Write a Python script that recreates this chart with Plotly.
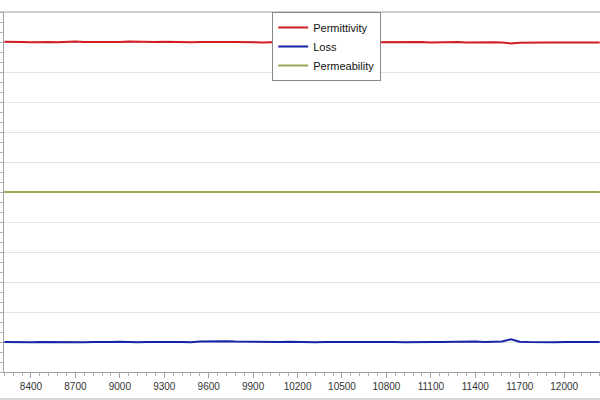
import plotly.graph_objects as go

# frequency samples (every 60 units, same spacing as the minor ticks)
freq = list(range(8220, 12241, 60))

permittivity = [
    33.02, 33.04, 33.00, 32.98, 33.03, 33.01, 32.97, 33.02, 33.05, 33.00,
    32.98, 33.03, 33.01, 32.99, 33.04, 33.02, 32.98, 33.00, 33.03, 32.99,
    33.01, 32.97, 33.00, 33.02, 32.98, 33.01, 33.00, 32.97, 32.99, 32.96,
    32.98, 33.00, 32.97, 32.99, 33.01, 32.98, 33.00, 32.97, 32.99, 33.00,
    32.98, 32.99, 32.97, 33.00, 32.98, 33.02, 32.97, 32.99, 32.96, 32.98,
    32.97, 32.99, 32.96, 32.98, 32.95, 32.97, 32.94, 32.86, 32.93, 32.96,
    32.94, 32.96, 32.95, 32.97, 32.94, 32.95, 32.94, 32.95,
]

loss = [
    3.00, 2.98, 3.02, 2.97, 3.01, 2.99, 3.03, 2.98, 3.00, 2.97,
    3.01, 2.98, 3.00, 3.02, 2.99, 2.97, 3.01, 2.98, 3.00, 2.99,
    3.01, 2.98, 3.05, 3.07, 3.06, 3.08, 3.05, 3.03, 3.06, 3.02,
    3.04, 3.01, 3.03, 2.99, 3.02, 2.98, 3.00, 2.97, 3.01, 2.99,
    3.00, 2.98, 3.02, 2.99, 3.01, 2.97, 3.00, 3.02, 2.99, 3.01,
    3.03, 3.00, 3.02, 3.04, 3.01, 3.03, 3.05, 3.28, 3.03, 3.00,
    2.98, 3.01, 2.97, 3.00, 3.02, 2.99, 3.03, 3.01,
]

permeability = [
    18.00, 18.00, 18.00, 18.01, 18.00, 18.00, 18.00, 18.00, 18.00, 18.00,
    18.00, 18.00, 18.01, 18.00, 18.00, 18.00, 18.00, 18.00, 18.00, 18.00,
    18.00, 18.00, 18.00, 18.00, 18.00, 18.01, 18.00, 18.00, 18.00, 18.00,
    18.00, 18.00, 18.00, 18.00, 18.00, 18.00, 18.00, 18.01, 18.00, 18.00,
    18.00, 18.00, 18.00, 18.00, 18.00, 18.00, 18.00, 18.00, 18.00, 18.00,
    18.01, 18.00, 18.00, 18.00, 18.00, 18.00, 18.00, 18.00, 18.00, 18.00,
    18.00, 18.00, 18.00, 18.00, 18.01, 18.00, 18.00, 18.00,
]

fig = go.Figure()
fig.add_trace(go.Scatter(x=freq, y=permittivity, name='Permittivity', mode='lines',
                         line=dict(color='rgb(210,30,35)', width=2)))
fig.add_trace(go.Scatter(x=freq, y=loss, name='Loss', mode='lines',
                         line=dict(color='rgb(25,35,165)', width=2)))
fig.add_trace(go.Scatter(x=freq, y=permeability, name='Permeability', mode='lines',
                         line=dict(color='rgb(150,170,85)', width=2)))

fig.update_layout(
    width=600, height=400,
    margin=dict(l=4, r=0, t=12, b=28),
    paper_bgcolor='white', plot_bgcolor='white',
    font=dict(family='Liberation Sans, Arial', size=10, color='#333333'),
    hovermode=False,
    legend=dict(x=0.45, y=1.0, xanchor='left', yanchor='top',
                bgcolor='white', bordercolor='#888888', borderwidth=1,
                font=dict(size=11, color='#111111'), itemwidth=30),
    shapes=[
        dict(type='line', xref='paper', yref='paper', x0=-0.01, x1=1.0, y0=1.0, y1=1.0,
             line=dict(color='#a0a0a0', width=1)),
        dict(type='line', xref='paper', yref='paper', x0=-0.01, x1=1.0, y0=-0.075, y1=-0.075,
             line=dict(color='#b0b0b0', width=1)),
    ],
)

fig.update_xaxes(range=[8218, 12242], tick0=8400, dtick=300, tickformat='d',
                 showgrid=False, zeroline=False,
                 showline=True, linecolor='#a0a0a0', linewidth=1,
                 ticks='outside', ticklen=5, tickcolor='#a0a0a0',
                 minor=dict(dtick=60, tick0=8400, ticks='outside', ticklen=3, tickcolor='#b0b0b0'))

fig.update_yaxes(range=[0, 36], dtick=3, tick0=0,
                 showgrid=True, gridcolor='#e2e2e2', gridwidth=1, zeroline=False,
                 showline=True, linecolor='#a0a0a0', linewidth=1,
                 showticklabels=False,
                 ticks='outside', ticklen=4, tickcolor='#b0b0b0',
                 minor=dict(dtick=1, ticks='outside', ticklen=4, tickcolor='#b0b0b0'))

# the page body has a default 8px margin; drop it so the figure fills the window
fig.write_html("out.html", config={'displayModeBar': False},
               post_script="document.body.style.margin='0';")
